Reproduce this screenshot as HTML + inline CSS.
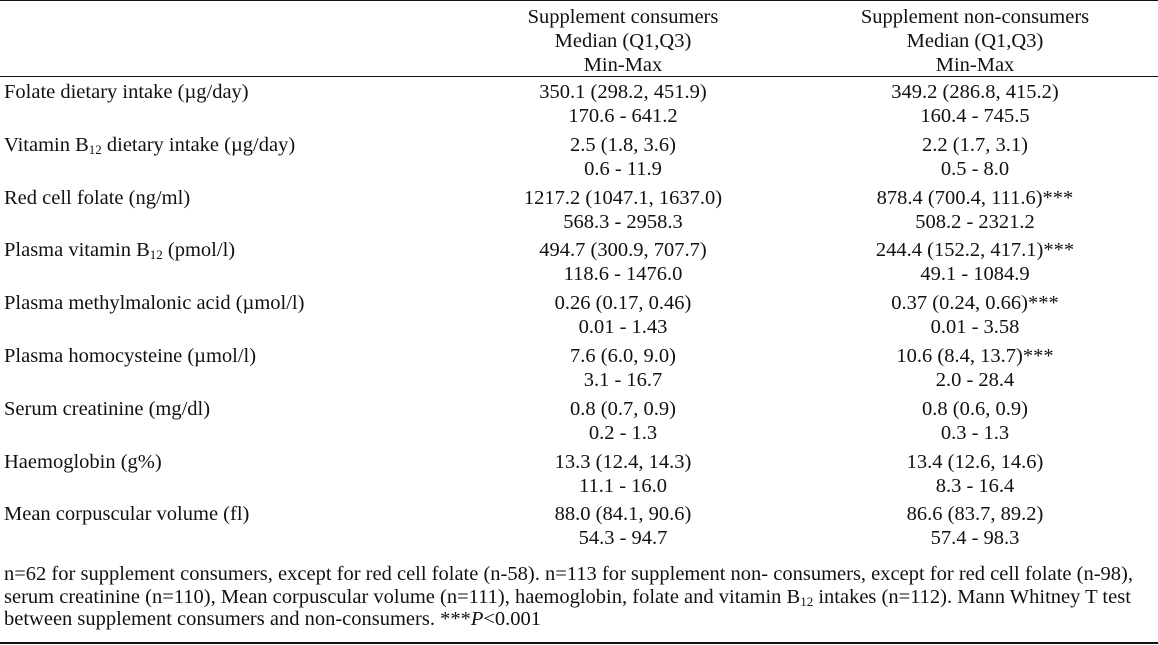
<!DOCTYPE html>
<html><head><meta charset="utf-8"><style>
body{margin:0;width:1158px;height:645px;background:#fff;position:relative;font-family:"Liberation Serif",serif;font-size:20.5px;color:#111;overflow:hidden}
.t{position:absolute;white-space:nowrap;line-height:20px}
.c{transform:translateX(-50%)}
.line{position:absolute;left:0;width:1158px;background:#111}
sub{font-size:13px;vertical-align:-3px;line-height:0}
</style></head><body>
<div class="line" style="top:0;height:1px"></div>
<div class="line" style="top:76px;height:1px"></div>
<div class="line" style="top:642px;height:2px"></div>
<div class="t c" style="left:623px;top:5px;text-align:center;line-height:24px">Supplement consumers<br>Median (Q1,Q3)<br>Min-Max</div>
<div class="t c" style="left:975px;top:5px;text-align:center;line-height:24px">Supplement non-consumers<br>Median (Q1,Q3)<br>Min-Max</div>
<div id="rows"></div>
<div class="t" style="left:4px;top:563px;line-height:22.5px">n=62 for supplement consumers, except for red cell folate (n-58). n=113 for supplement non- consumers, except for red cell folate (n-98),<br>serum creatinine (n=110), Mean corpuscular volume (n=111), haemoglobin, folate and vitamin B<sub>12</sub> intakes (n=112). Mann Whitney T test<br>between supplement consumers and non-consumers. ***<i>P</i>&lt;0.001</div>
<script>
const labels=["Folate dietary intake (µg/day)","Vitamin B<sub>12</sub> dietary intake (µg/day)","Red cell folate (ng/ml)","Plasma vitamin B<sub>12</sub> (pmol/l)","Plasma methylmalonic acid (µmol/l)","Plasma homocysteine (µmol/l)","Serum creatinine (mg/dl)","Haemoglobin (g%)","Mean corpuscular volume (fl)"];
const consMed=["350.1 (298.2, 451.9)","2.5 (1.8, 3.6)","1217.2 (1047.1, 1637.0)","494.7 (300.9, 707.7)","0.26 (0.17, 0.46)","7.6 (6.0, 9.0)","0.8 (0.7, 0.9)","13.3 (12.4, 14.3)","88.0 (84.1, 90.6)"];
const consRange=["170.6 - 641.2","0.6 - 11.9","568.3 - 2958.3","118.6 - 1476.0","0.01 - 1.43","3.1 - 16.7","0.2 - 1.3","11.1 - 16.0","54.3 - 94.7"];
const nonMed=["349.2 (286.8, 415.2)","2.2 (1.7, 3.1)","878.4 (700.4, 111.6)***","244.4 (152.2, 417.1)***","0.37 (0.24, 0.66)***","10.6 (8.4, 13.7)***","0.8 (0.6, 0.9)","13.4 (12.6, 14.6)","86.6 (83.7, 89.2)"];
const nonRange=["160.4 - 745.5","0.5 - 8.0","508.2 - 2321.2","49.1 - 1084.9","0.01 - 3.58","2.0 - 28.4","0.3 - 1.3","8.3 - 16.4","57.4 - 98.3"];
const root=document.getElementById('rows');
function add(html,x,y,center,name){
  const d=document.createElement('div');
  d.className='t'+(center?' c':'');
  d.style.left=x+'px';d.style.top=y+'px';d.innerHTML=html;
  
  
  root.appendChild(d);
}
labels.forEach((l,i)=>{
  const y=82+i*52.8;
  add(l,4,y,false,'row-label');
  add(consMed[i],623,y,true,'consumers-median');
  add(consRange[i],623,y+24,true,'consumers-range');
  add(nonMed[i],975,y,true,'non-consumers-median');
  add(nonRange[i],975,y+24,true,'non-consumers-range');
});
</script>
</body></html>
